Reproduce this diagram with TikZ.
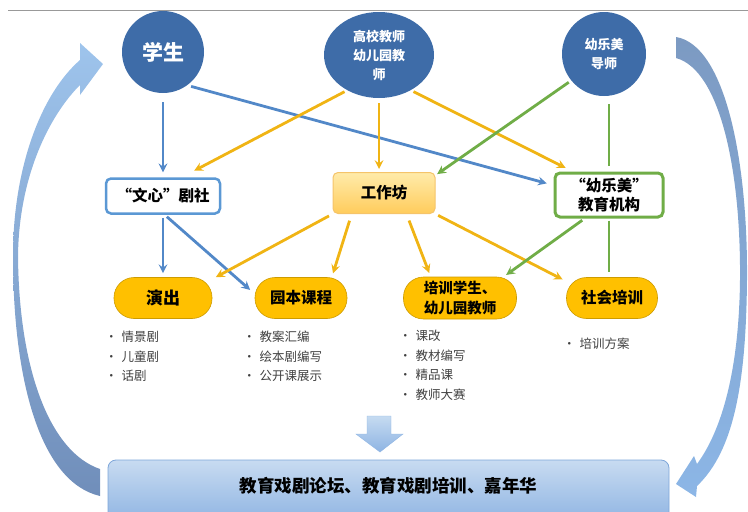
\documentclass[tikz,border=0pt]{standalone}
\usepackage{fontspec}
\newfontfamily\cjk{Noto Sans CJK SC}
\usetikzlibrary{shapes.geometric, arrows, positioning}
\definecolor{circfill}{RGB}{62,108,168}
\definecolor{linkblue}{RGB}{82,136,200}
\definecolor{clubline}{RGB}{91,152,212}
\definecolor{linkorange}{RGB}{240,180,20}
\definecolor{linkgreen}{RGB}{112,173,71}
\definecolor{taskfill}{RGB}{255,192,0}
\definecolor{taskline}{RGB}{205,155,0}
\tikzset{
	person/.style={circle, fill=circfill, text=white, inner sep=0pt, align=center, font={\cjk\bfseries\fontsize{13}{19}\selectfont}},
	group/.style={rectangle, rounded corners=5pt, fill=white, align=center, inner sep=0pt, font={\cjk\bfseries\fontsize{15.5}{18.5}\selectfont}},
	task/.style={rectangle, rounded corners=20pt, fill=taskfill, draw=taskline, line width=0.6pt, minimum height=41pt, inner sep=0pt, align=center, font={\cjk\bfseries\fontsize{15.5}{20}\selectfont}},
	itemlist/.style={anchor=north west, align=left, inner sep=0pt, text=black!75, font={\cjk\fontsize{12.5}{19.5}\selectfont}},
	bluearrow/.style={draw=linkblue, line width=2.8pt, ->, >=stealth},
	orangearrow/.style={draw=linkorange, line width=2.8pt, ->, >=stealth},
	greenarrow/.style={draw=linkgreen, line width=2.8pt, ->, >=stealth},
	greenline/.style={draw=linkgreen, line width=2pt}
}

\begin{document}
\begin{tikzpicture}[x=1pt, y=-1pt]
	\useasboundingbox (0,0) rectangle (748,512);
	\draw [black!40, line width=1pt] (8,10) -- (748,10);

	% Loop arrows
	\shade [top color={rgb,255:red,158;green,196;blue,236}, bottom color={rgb,255:red,112;green,142;blue,186}]
		(100,496) .. controls (40,482) and (13,380) .. (13,256)
		.. controls (13,170) and (40,95) .. (80,60) -- (80,43) -- (103,64) -- (80,95) -- (80,85)
		.. controls (50,115) and (19,175) .. (18,256)
		.. controls (19,370) and (50,452) .. (100,469) -- cycle;
	\shade [top color={rgb,255:red,124;green,154;blue,194}, bottom color={rgb,255:red,140;green,182;blue,230}]
		(676,37) .. controls (725,45) and (748,160) .. (747,280)
		.. controls (746,380) and (735,450) .. (697,486) -- (696,497) -- (676,484) -- (694,456) -- (697,464)
		.. controls (722,430) and (739,370) .. (740,280)
		.. controls (741,170) and (720,70) .. (676,58) -- cycle;

	% Nodes
	\node (xs) [person, minimum size=82pt, font={\cjk\bfseries\fontsize{21}{24}\selectfont}] at (163,52) {学生};
	\node (gx) [person, ellipse, minimum width=110pt, minimum height=86pt] at (379,55) {高校教师\\幼儿园教\\师};
	\node (ds) [person, minimum size=84pt] at (604,54) {幼乐美\\导师};

	\node (ws) [group, draw=clubline, line width=2.5pt, minimum width=114pt, minimum height=35pt] at (163,196) {“文心”剧社};
	\node (gzf) [group, top color={rgb,255:red,255;green,235;blue,170}, bottom color={rgb,255:red,255;green,204;blue,92}, draw={rgb,255:red,245;green,196;blue,106}, line width=1pt, minimum width=102pt, minimum height=41pt] at (384,193) {工作坊};
	\node (jg) [group, draw=linkgreen, line width=3pt, minimum width=108pt, minimum height=44pt] at (609,195) {“幼乐美”\\教育机构};

	\node (yc) [task, minimum width=98pt, font={\cjk\bfseries\fontsize{17}{20}\selectfont}] at (163,298) {演出};
	\node (yb) [task, minimum width=92pt] at (301,298) {园本课程};
	\node (px) [task, minimum width=113pt, minimum height=42pt, font={\cjk\bfseries\fontsize{14.5}{20}\selectfont}] at (460,298) {培训学生、\\幼儿园教师};
	\node (sh) [task, minimum width=91pt] at (612,298) {社会培训};

	\node (ycl) [itemlist] at (105,331) {•\hspace{4pt}情景剧\\•\hspace{4pt}儿童剧\\•\hspace{4pt}话剧};
	\node (ybl) [itemlist] at (243,331) {•\hspace{4pt}教案汇编\\•\hspace{4pt}绘本剧编写\\•\hspace{4pt}公开课展示};
	\node (pxl) [itemlist] at (399,330) {•\hspace{4pt}课改\\•\hspace{4pt}教材编写\\•\hspace{4pt}精品课\\•\hspace{4pt}教师大赛};
	\node (shl) [itemlist] at (563,338) {•\hspace{4pt}培训方案};

	\node (lt) [rectangle, rounded corners=8pt, top color={rgb,255:red,200;green,219;blue,241}, bottom color={rgb,255:red,141;green,179;blue,226}, draw={rgb,255:red,126;green,166;blue,217}, line width=0.8pt, minimum width=561pt, text height=22pt, text depth=20.6pt, inner ysep=10.7pt, font={\cjk\bfseries\fontsize{17.5}{20}\selectfont}] at (388.5,492) {教育戏剧论坛、教育戏剧培训、嘉年华};

	% Down arrow
	\shade [top color={rgb,255:red,198;green,219;blue,241}, bottom color={rgb,255:red,142;green,180;blue,227}, draw={rgb,255:red,142;green,180;blue,227}]
		(367,416) -- (391,416) -- (391,434) -- (403,434) -- (380,452) -- (356,434) -- (367,434) -- cycle;

	% Arrows
	\draw [bluearrow, shorten <=9pt, shorten >=5pt] (xs) -- (ws);
	\draw [bluearrow, shorten <=4pt, shorten >=7pt] (xs.-54) -- (jg.170);
	\draw [bluearrow, shorten <=3pt, shorten >=4pt] (ws) -- (yc);
	\draw [bluearrow, shorten <=3pt, shorten >=6pt] (ws.-85) -- (yb.175);

	\draw [orangearrow, shorten <=3pt, shorten >=14pt] (gx.228) -- (ws.45);
	\draw [orangearrow, shorten <=5pt, shorten >=3pt] (gx.south) -- (gx.south |- gzf.north);
	\draw [orangearrow, shorten <=3pt, shorten >=8pt] (gx.-48) -- (jg.147);
	\draw [orangearrow, shorten <=4pt, shorten >=4pt] (gzf.south west) -- (yc.21);
	\draw [orangearrow, shorten <=7pt, shorten >=4pt] (gzf.213) -- (yb.34);
	\draw [orangearrow, shorten <=7pt, shorten >=4pt] (gzf.-43) -- (px.144);
	\draw [orangearrow, shorten <=3pt, shorten >=4pt] (gzf.south east) -- (sh.160);

	\draw [greenarrow, shorten <=3pt, shorten >=2pt] (ds.219) -- (gzf.19);
	\draw [greenline, shorten <=8pt, shorten >=6pt] (jg.north |- ds.south) -- (jg.north);
	\draw [greenarrow, shorten <=3pt, shorten >=3pt] (jg.224) -- (px.26);
	\draw [greenline, shorten <=2pt, shorten >=5pt] (jg.south) -- (jg.south |- sh.north);
\end{tikzpicture}
\end{document}
